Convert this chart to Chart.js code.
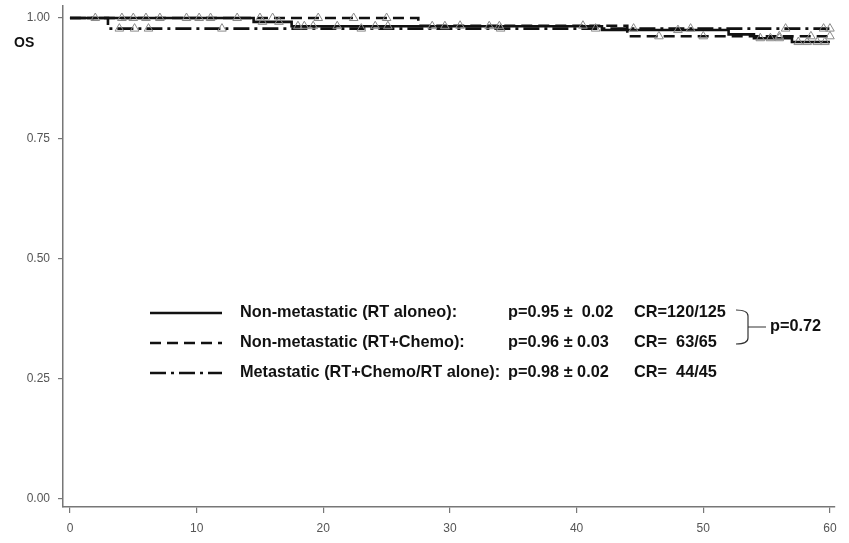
<!DOCTYPE html>
<html>
<head>
<meta charset="utf-8">
<script src="https://cdn.jsdelivr.net/npm/chart.js@4.4.1/dist/chart.umd.min.js"></script>
<style>
  html, body { margin: 0; padding: 0; background: #fff; }
  #wrap { width: 849px; height: 543px; }
</style>
</head>
<body>
<div id="wrap"><canvas id="kmChart" width="849" height="543"></canvas></div>
<script>
// tick labels
var xTicks = [0, 10, 20, 30, 40, 50, 60];
var yTicks = [0, 0.25, 0.5, 0.75, 1.0];

// KM step curves (time in months, survival)
var rtAloneT = [0, 14.5, 17.5, 42, 52, 54, 57, 60];
var rtAloneS = [1.0, 0.992, 0.983, 0.975, 0.966, 0.958, 0.95, 0.95];
var rtChemoT = [0, 27.5, 44, 60];
var rtChemoS = [1.0, 0.984, 0.962, 0.962];
var metaT = [0, 3, 60];
var metaS = [1.0, 0.978, 0.978];

// censored observations
var rtAloneCensT = [2.0, 5.0, 7.1, 9.2, 10.2, 11.1, 13.2, 15.2, 16.5, 18.0, 18.5, 19.2, 21.1, 24.1, 25.1, 28.6, 29.6, 33.1, 33.9, 48.0, 54.5, 55.3, 56.0, 57.5, 58.2, 59.0, 59.6];
var rtAloneCensS = [1.0, 1.0, 1.0, 1.0, 1.0, 1.0, 1.0, 0.992, 0.992, 0.983, 0.983, 0.983, 0.983, 0.983, 0.983, 0.983, 0.983, 0.983, 0.983, 0.975, 0.958, 0.958, 0.958, 0.95, 0.95, 0.95, 0.95];
var rtChemoCensT = [4.1, 6.0, 15.0, 16.0, 19.6, 22.4, 25.0, 30.8, 40.5, 46.5, 50.0, 56.0, 58.5, 60.0];
var rtChemoCensS = [1.0, 1.0, 1.0, 1.0, 1.0, 1.0, 1.0, 0.984, 0.984, 0.962, 0.962, 0.962, 0.962, 0.962];
var metaCensT = [3.9, 5.1, 6.2, 12.0, 23.0, 34.0, 41.5, 44.5, 49.0, 56.5, 59.5, 60.0];
var metaCensS = [0.978, 0.978, 0.978, 0.978, 0.978, 0.978, 0.978, 0.978, 0.978, 0.978, 0.978, 0.978];

// legend text
var legendLabels = ['Non-metastatic (RT aloneo):', 'Non-metastatic (RT+Chemo):', 'Metastatic (RT+Chemo/RT alone):'];
var legendP = ['p=0.95 \u00b1  0.02', 'p=0.96 \u00b1 0.03', 'p=0.98 \u00b1 0.02'];
var legendCR = ['CR=120/125', 'CR=  63/65', 'CR=  44/45'];
var pCompare = 'p=0.72';

function pts(t, s) {
  return t.map(function (v, i) { return { x: v, y: s[i] }; });
}

var FONT = "'Liberation Sans', Arial, sans-serif";
var dashes = [[], [11, 6], [16, 5, 3, 5]];

function curve(label, t, s, dash) {
  return {
    type: 'line', label: label, data: pts(t, s), stepped: 'before',
    borderColor: '#111', borderWidth: 2.6, borderDash: dash,
    pointRadius: 0, fill: false, order: 2
  };
}
function cens(t, s) {
  return {
    type: 'scatter', data: pts(t, s), pointStyle: 'triangle',
    pointRadius: 5, borderColor: '#8a8a8a', borderWidth: 1,
    backgroundColor: 'rgba(255,255,255,0)', order: 1
  };
}

var legendPlugin = {
  id: 'kmLegend',
  afterDraw: function (chart) {
    var ctx = chart.ctx;
    ctx.save();
    // y axis title
    ctx.fillStyle = '#111';
    ctx.font = 'bold 14px ' + FONT;
    ctx.textBaseline = 'middle';
    ctx.textAlign = 'left';
    ctx.fillText('OS', 14, 43);

    var rows = [313, 343, 373];
    for (var i = 0; i < 3; i++) {
      var y = rows[i];
      ctx.strokeStyle = '#111';
      ctx.lineWidth = 2.6;
      ctx.setLineDash(dashes[i]);
      ctx.beginPath();
      ctx.moveTo(150, y);
      ctx.lineTo(222, y);
      ctx.stroke();
      ctx.setLineDash([]);
      ctx.font = 'bold 16.3px ' + FONT;
      ctx.fillStyle = '#111';
      ctx.fillText(legendLabels[i], 240, y);
      ctx.fillText(legendP[i], 508, y);
      ctx.fillText(legendCR[i], 634, y);
    }
    // bracket comparing the two non-metastatic groups
    ctx.strokeStyle = '#333';
    ctx.lineWidth = 1.2;
    ctx.beginPath();
    ctx.moveTo(736, 310);
    ctx.quadraticCurveTo(748, 310, 748, 316);
    ctx.lineTo(748, 338);
    ctx.quadraticCurveTo(748, 344, 736, 344);
    ctx.moveTo(748, 327);
    ctx.lineTo(766, 327);
    ctx.stroke();
    ctx.fillText(pCompare, 770, 327);
    ctx.restore();
  }
};

var ctx = document.getElementById('kmChart').getContext('2d');
new Chart(ctx, {
  data: {
    datasets: [
      curve('Non-metastatic (RT alone)', rtAloneT, rtAloneS, dashes[0]),
      curve('Non-metastatic (RT+Chemo)', rtChemoT, rtChemoS, dashes[1]),
      curve('Metastatic (RT+Chemo/RT alone)', metaT, metaS, dashes[2]),
      cens(rtAloneCensT, rtAloneCensS),
      cens(rtChemoCensT, rtChemoCensS),
      cens(metaCensT, metaCensS)
    ]
  },
  options: {
    responsive: false,
    animation: false,
    layout: { padding: { top: 5, right: 14, left: 0, bottom: 0 } },
    plugins: { legend: { display: false }, tooltip: { enabled: false } },
    scales: {
      x: {
        type: 'linear', min: -0.55, max: 60.4,
        afterBuildTicks: function (s) { s.ticks = xTicks.map(function (v) { return { value: v }; }); },
        afterFit: function (s) { s.height = 36; s.paddingLeft = 0; s.paddingRight = 0; },
        grid: { drawOnChartArea: false, drawTicks: true, tickLength: 6, color: '#777', lineWidth: 1.2 },
        border: { color: '#777', width: 1.5 },
        ticks: { color: '#555', font: { family: FONT, size: 12 }, padding: 8, maxRotation: 0 }
      },
      y: {
        type: 'linear', min: -0.0166, max: 1.025,
        afterBuildTicks: function (s) { s.ticks = yTicks.map(function (v) { return { value: v }; }); },
        afterFit: function (s) { s.width = 63; s.paddingTop = 0; s.paddingBottom = 0; },
        grid: { drawOnChartArea: false, drawTicks: true, tickLength: 5, color: '#777', lineWidth: 1.2 },
        border: { color: '#777', width: 1.5 },
        ticks: { color: '#555', font: { family: FONT, size: 12 }, padding: 8,
          callback: function (v) { return v.toFixed(2); } }
      }
    }
  },
  plugins: [legendPlugin]
});
</script>
</body>
</html>
